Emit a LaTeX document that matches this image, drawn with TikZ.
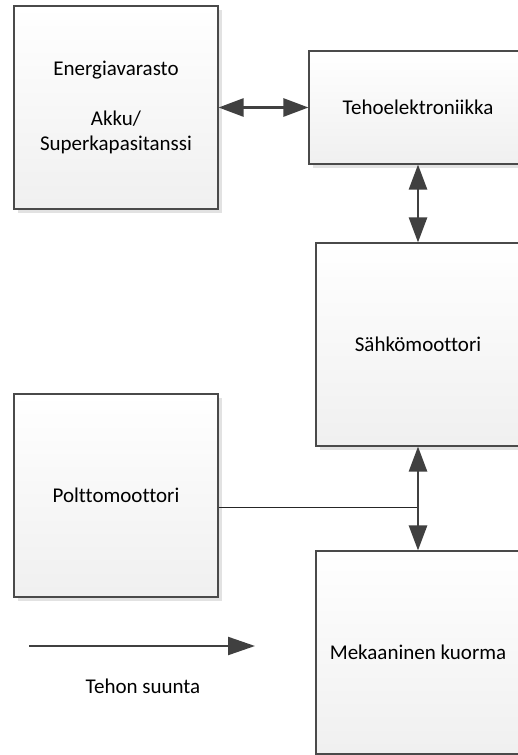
\documentclass[tikz,border=0pt]{standalone}
\usepackage{fontspec}
\setmainfont{Carlito}[Ligatures={NoCommon}]
\usetikzlibrary{arrows.meta,shadows}
\definecolor{edge}{HTML}{4A4A4A}
\definecolor{arr}{HTML}{404040}
\definecolor{shadowc}{HTML}{E2E2E2}
\begin{document}
\begin{tikzpicture}[x=1pt,y=-1pt,
  blk/.style={draw=edge, line width=1.1pt, top color=white, bottom color=black!6,
    drop shadow={shadow xshift=4pt, shadow yshift=-4pt, fill=shadowc, opacity=1},
    align=center, inner sep=0pt, font=\fontsize{21}{25}\selectfont, text=black},
  bi/.style={arr, line width=2.6pt, {Triangle[length=25pt,width=18pt]}-{Triangle[length=25pt,width=18pt]}},
  uni/.style={arr, line width=2.2pt, -{Triangle[length=27pt,width=18pt]}},
  lbl/.style={font=\fontsize{21}{25}\selectfont, text=black}]
\useasboundingbox (0,0) rectangle (518,755);
\clip (0,0) rectangle (518,755);
\fill[white] (0,0) rectangle (518,755);
\node[blk, minimum width=204pt, minimum height=203pt] (energia) at (116,107.5)
  {Energiavarasto\\[25pt]Akku/\\Superkapasitanssi};
\node[blk, minimum width=218pt, minimum height=113pt] (teho) at (418,107.5) {Tehoelektroniikka};
\node[blk, minimum width=204pt, minimum height=203pt] (sahko) at (418,344.5) {Sähkömoottori};
\node[blk, minimum width=204pt, minimum height=203pt] (poltto) at (116,495.5) {Polttomoottori};
\node[blk, minimum width=204pt, minimum height=203pt] (meka) at (418,652.5) {Mekaaninen kuorma};
\draw[bi] (energia.east) -- (teho.west);
\draw[bi] (teho.south) -- (sahko.north);
\draw[black!85, line width=1pt] (poltto.east |- 0,507) coordinate (pj) -- (pj -| sahko.south) coordinate (vj);
\draw[bi] (sahko.south) -- (meka.north);
\coordinate (legA) at (29,646);
\coordinate (legB) at (255,646);
\draw[uni] (legA) -- (legB);
\node[lbl] (leg) at (143,686) {Tehon suunta};
\end{tikzpicture}
\end{document}
